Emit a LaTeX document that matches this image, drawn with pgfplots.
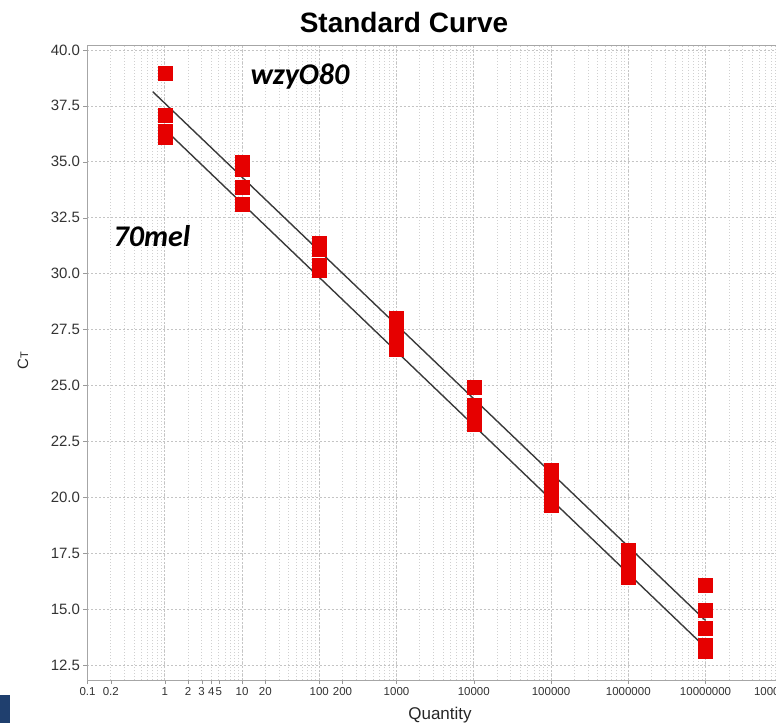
\documentclass[border=0pt]{standalone}
\usepackage{fontspec}
\setmainfont{Liberation Sans}
\newfontfamily\carlito{Carlito}
\usepackage{pgfplots}
\pgfplotsset{compat=1.18}
\definecolor{ptred}{HTML}{E60000}
\definecolor{fitline}{HTML}{3A3A3A}
\definecolor{gridgray}{HTML}{C4C4C4}
\definecolor{slideblue}{HTML}{1F3F6E}

\begin{document}
\begin{tikzpicture}[x=1pt,y=1pt]
\clip (-87.5,-43) rectangle (688.5,680);
\fill[slideblue] (-87.5,-43) rectangle (-77.5,-15);
\begin{axis}[
  scale only axis, width=695.3pt, height=635pt,
  xmode=log, xmin=0.1, xmax=1e8, ymin=11.83, ymax=40.22,
  /pgf/number format/assume math mode=true,
  xtick={0.1,1,10,100,1000,10000,100000,1000000,10000000,100000000},
  xticklabels={0.1,1,10,100,1000,10000,100000,1000000,10000000,100000000},
  extra x ticks={0.2,2,3,4,5,20,200},
  extra x tick labels={0.2,2,3,4,5,20,200},
  extra x tick style={grid=none},
  ytick={12.5,15,17.5,20,22.5,25,27.5,30,32.5,35,37.5,40},
  yticklabel style={/pgf/number format/fixed,/pgf/number format/fixed zerofill,
    /pgf/number format/precision=1, font=\fontsize{15}{15}\selectfont, text=black!80},
  xticklabel style={font=\fontsize{11.5}{11.5}\selectfont, text=black!80},
  tick align=outside, major tick length=4pt, minor tick length=0pt,
  tick style={gray!80},
  axis line style={gray!70, line width=0.9pt},
  xtick pos=bottom, ytick pos=left,
  grid=both,
  major grid style={gridgray, dash pattern=on 2pt off 2pt, line width=0.6pt},
  minor grid style={gridgray!80, dash pattern=on 1pt off 2pt, line width=0.6pt},
]
\addplot[fitline, line width=1.4pt, no marks] coordinates {(0.7,38.13) (1e7,14.49)};
\addplot[fitline, line width=1.4pt, no marks] coordinates {(1,36.45) (1e7,13.28)};
\addplot[only marks, mark=square*, mark size=7pt, mark options={draw=ptred, fill=ptred}] coordinates {
(1,38.95) (1,37.06) (1,36.37) (1,36.10)
(10,34.96) (10,34.65) (10,33.87) (10,33.1)
(100,31.35) (100,31.1) (100,30.38) (100,30.15)
(1000,28.02) (1000,27.6) (1000,27.1) (1000,26.64)
(10000,24.91) (10000,24.13) (10000,23.75) (10000,23.25)
(100000,21.22) (100000,20.83) (100000,20.3) (100000,19.65)
(1000000,17.63) (1000000,17.25) (1000000,16.8) (1000000,16.42)
(10000000,16.06) (10000000,14.94) (10000000,14.16) (10000000,13.4) (10000000,13.13)
};
\end{axis}
\node[font=\bfseries\fontsize{28}{28}\selectfont] at (316.5,658) {Standard Curve};
\node[font=\fontsize{17}{17}\selectfont, text=black!85] at (352.5,-35) {Quantity};
\node[rotate=90, text=black!85] at (-64.5,319) {\fontsize{15}{15}\selectfont C\fontsize{11}{11}\selectfont T};
\node[font=\carlito\bfseries\itshape\fontsize{30}{30}\selectfont] at (212.5,603) {wzyO80};
\node[font=\carlito\bfseries\itshape\fontsize{30}{30}\selectfont] at (64.5,444) {70mel};
\end{tikzpicture}
\end{document}
